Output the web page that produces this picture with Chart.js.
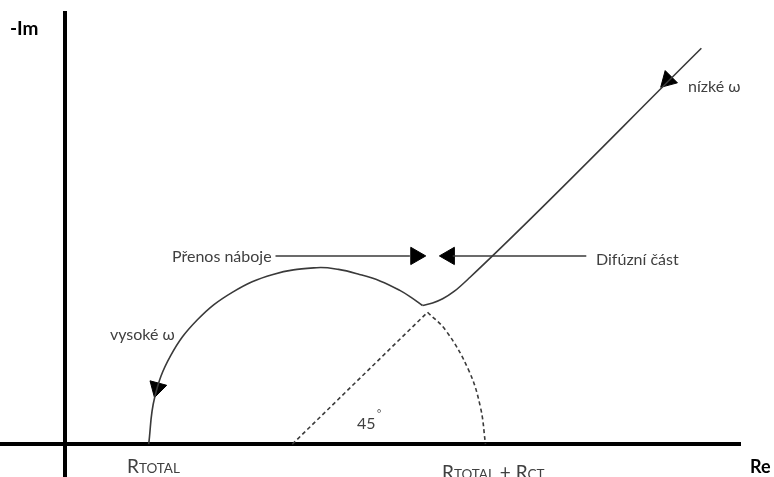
<!DOCTYPE html>
<html lang="cs">
<head>
<meta charset="utf-8">
<title>Nyquistův diagram</title>
<script src="https://cdn.jsdelivr.net/npm/chart.js@4.4.1/dist/chart.umd.min.js"></script>
<style>
  html, body { margin: 0; background: #fff; }
  #wrap { width: 774px; height: 477px; }
</style>
</head>
<body>
<div id="wrap"><canvas id="nyquist" width="774" height="477"></canvas></div>
<script>
// Re / -Im v relativních jednotkách (R_TOTAL = 1, R_TOTAL + R_CT = 5)
const oblouk = [
    {x: 1.00, y: 0.00}, {x: 1.07, y: 0.55}, {x: 1.26, y: 1.05}, {x: 1.58, y: 1.48},
    {x: 2.00, y: 1.81}, {x: 2.48, y: 2.02}, {x: 3.00, y: 2.10}, {x: 3.26, y: 2.08},
    {x: 3.51, y: 2.02}, {x: 3.76, y: 1.94}, {x: 3.99, y: 1.83}, {x: 4.12, y: 1.75},
    {x: 4.26, y: 1.65}
];
const obloukCarkovany = [
    {x: 4.32, y: 1.57}, {x: 4.54, y: 1.35}, {x: 4.81, y: 0.88}, {x: 4.95, y: 0.44}, {x: 5.01, y: 0.00}
];
const polomer45 = [{x: 2.71, y: 0.00}, {x: 4.32, y: 1.57}];
const difuze = [
    {x: 4.26, y: 1.65}, {x: 4.38, y: 1.68}, {x: 4.50, y: 1.73}, {x: 4.64, y: 1.82},
    {x: 4.82, y: 1.98}, {x: 7.58, y: 4.71}
];
const sipkaPrenos = [{x: 2.51, y: 2.24}, {x: 4.11, y: 2.24}];
const sipkaDifuze = [{x: 6.21, y: 2.24}, {x: 4.62, y: 2.24}];
const hroty = [{x: 4.18, y: 2.24}, {x: 4.58, y: 2.24}, {x: 7.18, y: 4.33}, {x: 1.10, y: 0.67}];
const hrotyUhel = [90, 270, 225, 195];

const CARA = '#3a3a3a';
const TEXT = '#404040';
const PISMO = 'Lato, "Noto Sans", sans-serif';

// popisky: [text, velikost] po částech (kvůli kapitálkám u R_TOTAL)
const popisky = [
    {x: 10,  y: 28,  parts: [['-Im', 19]], bold: true, color: '#000'},
    {x: 750, y: 467, parts: [['Re', 18]],  bold: true, color: '#000'},
    {x: 172, y: 256, parts: [['Přenos náboje', 16]]},
    {x: 596, y: 259, parts: [['Difúzní část', 16]]},
    {x: 688, y: 86,  parts: [['nízké ω', 16]]},
    {x: 110, y: 334, parts: [['vysoké ω', 16]]},
    {x: 357, y: 423, parts: [['45', 16]]},
    {x: 377, y: 413, parts: [['°', 10]]},
    {x: 127, y: 466, parts: [['R', 19], ['TOTAL', 13.5]]},
    {x: 442, y: 472, parts: [['R', 19], ['TOTAL', 13.5], [' + ', 19], ['R', 19], ['CT', 13.5]]}
];

const popiskyPlugin = {
    id: 'popisky',
    afterDraw(chart) {
        const ctx = chart.ctx;
        ctx.save();
        ctx.textBaseline = 'alphabetic';
        popisky.forEach(p => {
            let x = p.x;
            const maxSize = Math.max(...p.parts.map(q => q[1]));
            const base = p.y + maxSize * 0.36;
            ctx.fillStyle = p.color || TEXT;
            p.parts.forEach(([t, size]) => {
                ctx.font = (p.bold ? 'bold ' : '') + size + 'px ' + PISMO;
                ctx.fillText(t, x, base);
                x += ctx.measureText(t).width;
            });
        });
        ctx.restore();
    }
};

const plna = {showLine: true, borderColor: CARA, borderWidth: 1.6, pointRadius: 0, fill: false};

new Chart(document.getElementById('nyquist'), {
    type: 'scatter',
    data: {
        datasets: [
            {...plna, label: 'oblouk', data: oblouk, tension: 0.4},
            {...plna, label: 'oblouk čárkovaně', data: obloukCarkovany, tension: 0.4, borderDash: [4, 3]},
            {...plna, label: '45°', data: polomer45, borderDash: [4, 3]},
            {...plna, label: 'difúze', data: difuze, cubicInterpolationMode: 'monotone'},
            {...plna, label: 'Přenos náboje', data: sipkaPrenos},
            {...plna, label: 'Difúzní část', data: sipkaDifuze},
            {
                label: 'hroty', data: hroty, showLine: false,
                pointStyle: 'triangle', pointRadius: 10, pointRotation: hrotyUhel,
                pointBackgroundColor: '#000', pointBorderColor: '#000', pointBorderWidth: 1
            }
        ]
    },
    options: {
        responsive: false,
        animation: false,
        devicePixelRatio: 1,
        layout: { autoPadding: false, padding: { left: 0, right: 34, top: 13, bottom: 0 } },
        plugins: { legend: { display: false }, tooltip: { enabled: false } },
        scales: {
            x: {
                type: 'linear', min: -0.77, max: 8.04, position: { y: 0 },
                ticks: { display: false }, grid: { display: false, drawTicks: false },
                border: { display: true, color: '#000', width: 4 }
            },
            y: {
                type: 'linear', min: -0.39, max: 5.13, position: { x: 0 },
                ticks: { display: false }, grid: { display: false, drawTicks: false },
                border: { display: true, color: '#000', width: 4 }
            }
        }
    },
    plugins: [popiskyPlugin]
});
</script>
</body>
</html>
